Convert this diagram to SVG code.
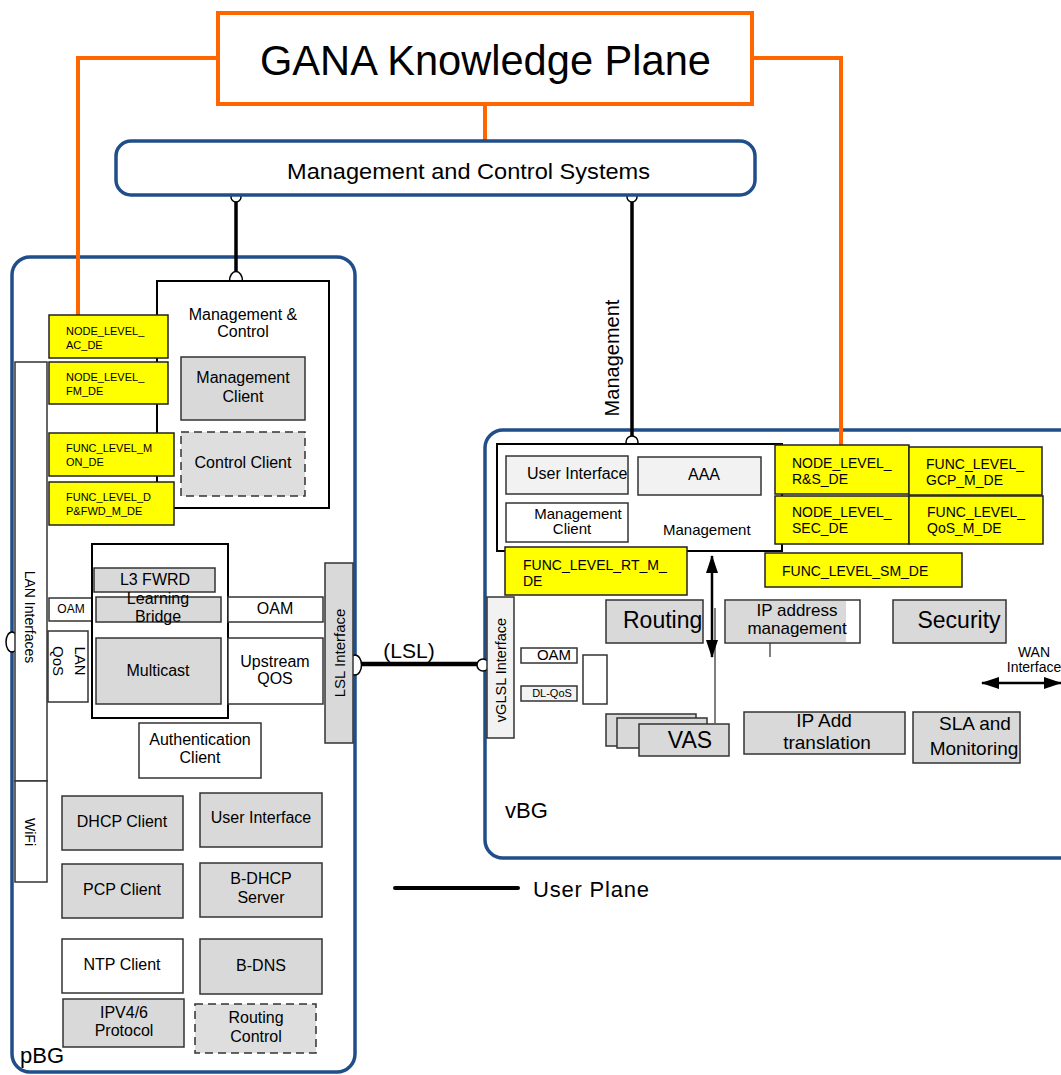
<svg xmlns="http://www.w3.org/2000/svg" width="1061" height="1075" viewBox="0 0 1061 1075">
<style>
text{font-family:"Liberation Sans",Arial,sans-serif;fill:#000}
.c{text-anchor:middle}
.blue{fill:#fff;stroke:#1F4E89;stroke-width:3.5}
.box{stroke:#333;stroke-width:1.5}
.g{fill:#D9D9D9}
.lg{fill:#F2F2F2}
.w{fill:#fff}
.y{fill:#FFFF00;stroke:#222;stroke-width:1.5}
.dash{stroke-dasharray:8,5}
.or{fill:none;stroke:#FF6600;stroke-width:4}
.blk{fill:none;stroke:#000}
.f16{font-size:16px}
.f11{font-size:11px}
.f14{font-size:14px}
</style>
<defs>
<marker id="ah" viewBox="0 0 18 12" refX="17" refY="6" markerWidth="18" markerHeight="12" markerUnits="userSpaceOnUse" orient="auto-start-reverse">
<path d="M0,0 L18,6 L0,12 z" fill="#000"/>
</marker>
</defs>

<!-- containers -->
<g id="pBG">
<rect class="blue" x="12" y="257" width="343" height="815" rx="18"/>
<text x="20" y="1063" font-size="22">pBG</text>
</g>
<g id="vBG">
<rect class="blue" x="485" y="430" width="600" height="428" rx="18"/>
<text x="505" y="818" font-size="22">vBG</text>
</g>

<!-- connectors -->
<g id="connectors">
<path class="or" d="M218,58 H78 V315"/>
<path class="or" d="M752,58 H841 V445"/>
<path class="or" d="M485,104 V141"/>
<line class="blk" x1="236" y1="197" x2="236" y2="272" stroke-width="3.5"/>
<line class="blk" x1="632" y1="197" x2="632" y2="437" stroke-width="3.5"/>
<line class="blk" x1="355" y1="664" x2="481" y2="664" stroke-width="4.5"/>
<line class="blk" x1="395" y1="888" x2="518" y2="888" stroke-width="4" stroke-linecap="round"/>
<line class="blk" x1="712" y1="556" x2="712" y2="657" stroke-width="2.5" marker-start="url(#ah)" marker-end="url(#ah)"/>
<line class="blk" x1="982" y1="683" x2="1061" y2="683" stroke-width="2.5" marker-start="url(#ah)" marker-end="url(#ah)"/>
<line class="blk" x1="715" y1="608" x2="715" y2="723" stroke-width="1"/>
<line class="blk" x1="770" y1="643" x2="770" y2="657" stroke-width="1"/>
<circle cx="236" cy="197" r="5" fill="#fff" stroke="#000" stroke-width="1.5"/>
<circle cx="632" cy="197" r="5" fill="#fff" stroke="#000" stroke-width="1.5"/>
<ellipse cx="236" cy="281" rx="6.5" ry="9.5" fill="#fff" stroke="#000" stroke-width="1.5"/>
<circle cx="632" cy="442" r="6" fill="#fff" stroke="#000" stroke-width="1.5"/>
<ellipse cx="355" cy="665" rx="6.5" ry="10" fill="#fff" stroke="#000" stroke-width="1.5"/>
<circle cx="483" cy="665" r="6" fill="#fff" stroke="#000" stroke-width="1.5"/>
<ellipse cx="12" cy="642" rx="6" ry="10" fill="#fff" stroke="#000" stroke-width="1.5"/>
<text transform="translate(619,358) rotate(-90)" class="c" font-size="20">Management</text>
<text x="409" y="658" class="c" font-size="21">(LSL)</text>
<text x="533" y="897" font-size="22" textLength="116">User Plane</text>
<text x="1034" y="657" class="c f14">WAN</text>
<text x="1034" y="672" class="c f14">Interface</text>
</g>

<g id="gana">
<rect x="218" y="13" width="534" height="91" fill="#fff" stroke="#FF6600" stroke-width="4"/>
<text x="260" y="75" font-size="43" textLength="451" lengthAdjust="spacingAndGlyphs">GANA Knowledge Plane</text>
</g>
<g id="mcs">
<rect class="blue" x="116" y="141" width="639" height="54" rx="15"/>
<text x="287" y="179" font-size="22" textLength="363" lengthAdjust="spacingAndGlyphs">Management and Control Systems</text>
</g>

<!-- pBG internals -->
<g id="lan-if">
<rect class="w box" x="15" y="362" width="32" height="419"/>
<text transform="translate(25,617) rotate(90)" class="c" font-size="14">LAN Interfaces</text>
</g>
<g id="wifi">
<rect class="w box" x="15" y="781" width="32" height="101"/>
<text transform="translate(25,832) rotate(90)" class="c" font-size="14">WiFi</text>
</g>
<g id="mc">
<rect x="157" y="281" width="172" height="227" fill="#fff" stroke="#000" stroke-width="2"/>
<text x="243" y="320" class="c f16">Management &amp;</text>
<text x="243" y="337" class="c f16">Control</text>
</g>
<g id="mgmt-client">
<rect class="g box" x="181" y="357" width="124" height="63"/>
<text x="243" y="383" class="c f16">Management</text>
<text x="243" y="402" class="c f16">Client</text>
</g>
<g id="ctrl-client">
<rect class="box dash" x="181" y="432" width="124" height="64" fill="#DEDEDE"/>
<text x="243" y="468" class="c f16">Control Client</text>
</g>
<g id="y-ac">
<rect class="y" x="49" y="315" width="119" height="43"/>
<text x="66" y="335" class="f11">NODE_LEVEL_</text>
<text x="66" y="349" class="f11">AC_DE</text>
</g>
<g id="y-fm">
<rect class="y" x="49" y="362" width="119" height="42"/>
<text x="66" y="381" class="f11">NODE_LEVEL_</text>
<text x="66" y="395" class="f11">FM_DE</text>
</g>
<g id="y-mon">
<rect class="y" x="49" y="433" width="125" height="43"/>
<text x="66" y="452" class="f11">FUNC_LEVEL_M</text>
<text x="66" y="466" class="f11">ON_DE</text>
</g>
<g id="y-dp">
<rect class="y" x="49" y="482" width="125" height="43"/>
<text x="66" y="501" class="f11">FUNC_LEVEL_D</text>
<text x="66" y="515" class="f11">P&amp;FWD_M_DE</text>
</g>

<g id="oam-l">
<rect class="w box" x="49" y="598" width="45" height="23"/>
<text x="71" y="613" class="c" font-size="12">OAM</text>
</g>
<g id="lan-qos">
<rect class="w box" x="48" y="631" width="40" height="71"/>
<text transform="translate(75,661) rotate(90)" class="c" font-size="15"><tspan x="0" y="0">LAN</tspan><tspan x="0" y="22">QoS</tspan></text>
</g>
<g id="fwd">
<rect x="92" y="544" width="136" height="174" fill="#fff" stroke="#000" stroke-width="2"/>
</g>
<g id="l3fwrd">
<rect class="g box" x="94" y="568" width="121" height="24"/>
<text x="155" y="585" class="c f16">L3 FWRD</text>
</g>
<g id="lbridge">
<rect class="g box" x="96" y="597" width="125" height="25"/>
<text x="158" y="604" class="c f16">Learning</text>
<text x="158" y="622" class="c f16">Bridge</text>
</g>
<g id="multicast">
<rect class="g box" x="96" y="638" width="125" height="66"/>
<text x="158" y="676" class="c f16">Multicast</text>
</g>
<g id="oam-r">
<rect class="w box" x="228" y="597" width="95" height="25"/>
<text x="275" y="614" class="c f16">OAM</text>
</g>
<g id="upqos">
<rect class="w box" x="228" y="638" width="95" height="66"/>
<text x="275" y="667" class="c f16">Upstream</text>
<text x="275" y="684" class="c f16">QOS</text>
</g>
<g id="auth">
<rect class="w box" x="139" y="723" width="122" height="55"/>
<text x="200" y="745" class="c f16">Authentication</text>
<text x="200" y="763" class="c f16">Client</text>
</g>
<g id="lsl-if">
<rect class="g box" x="325" y="563" width="28" height="180"/>
<text transform="translate(345,653) rotate(-90)" class="c" font-size="15">LSL Interface</text>
</g>
<g id="dhcp">
<rect class="g box" x="62" y="796" width="121" height="54"/>
<text x="122" y="827" class="c f16">DHCP Client</text>
</g>
<g id="ui-p">
<rect class="g box" x="200" y="793" width="122" height="54"/>
<text x="261" y="823" class="c f16">User Interface</text>
</g>
<g id="pcp">
<rect class="g box" x="62" y="864" width="121" height="54"/>
<text x="122" y="895" class="c f16">PCP Client</text>
</g>
<g id="bdhcp">
<rect class="g box" x="200" y="863" width="122" height="54"/>
<text x="261" y="884" class="c f16">B-DHCP</text>
<text x="261" y="903" class="c f16">Server</text>
</g>
<g id="ntp">
<rect class="w box" x="62" y="939" width="121" height="54"/>
<text x="122" y="970" class="c f16">NTP Client</text>
</g>
<g id="bdns">
<rect class="g box" x="200" y="939" width="122" height="55"/>
<text x="261" y="971" class="c f16">B-DNS</text>
</g>
<g id="ipv46">
<rect class="g box" x="63" y="999" width="121" height="48"/>
<text x="124" y="1018" class="c f16">IPV4/6</text>
<text x="124" y="1036" class="c f16">Protocol</text>
</g>
<g id="rtctrl">
<rect class="box dash" x="195" y="1004" width="121" height="49" fill="#DEDEDE"/>
<text x="256" y="1023" class="c f16">Routing</text>
<text x="256" y="1042" class="c f16">Control</text>
</g>

<!-- vBG internals -->
<g id="vmgmt">
<rect x="497" y="444" width="285" height="107" fill="#fff" stroke="#000" stroke-width="2"/>
<text x="663" y="535" font-size="15">Management</text>
</g>
<g id="v-ui">
<rect class="lg box" x="506" y="456" width="122" height="38"/>
<text x="527" y="479" class="f16">User Interface</text>
</g>
<g id="aaa">
<rect class="lg box" x="638" y="457" width="123" height="38"/>
<text x="704" y="480" class="c f16">AAA</text>
</g>
<g id="v-mc">
<rect class="w box" x="506" y="503" width="122" height="39"/>
<text x="578" y="519" class="c" font-size="15">Management</text>
<text x="572" y="534" class="c" font-size="15">Client</text>
</g>
<g id="y-rs">
<rect class="y" x="775" y="445" width="134" height="49"/>
<text x="792" y="468" class="f14">NODE_LEVEL_</text>
<text x="792" y="484" class="f14">R&amp;S_DE</text>
</g>
<g id="y-gcp">
<rect class="y" x="909" y="447" width="133" height="48"/>
<text x="926" y="469" class="f14">FUNC_LEVEL_</text>
<text x="926" y="485" class="f14">GCP_M_DE</text>
</g>
<g id="y-sec">
<rect class="y" x="775" y="496" width="134" height="48"/>
<text x="792" y="517" class="f14">NODE_LEVEL_</text>
<text x="792" y="533" class="f14">SEC_DE</text>
</g>
<g id="y-qos">
<rect class="y" x="909" y="496" width="134" height="48"/>
<text x="927" y="517" class="f14">FUNC_LEVEL_</text>
<text x="927" y="533" class="f14">QoS_M_DE</text>
</g>
<g id="y-sm">
<rect class="y" x="765" y="553" width="197" height="34"/>
<text x="782" y="576" class="f14">FUNC_LEVEL_SM_DE</text>
</g>
<g id="y-rt">
<rect class="y" x="505" y="547" width="182" height="48"/>
<text x="523" y="570" class="f14">FUNC_LEVEL_RT_M_</text>
<text x="523" y="586" class="f14">DE</text>
</g>
<g id="vglsl">
<rect class="lg box" x="487" y="597" width="27" height="141"/>
<text transform="translate(506,670) rotate(-90)" class="c" font-size="14.5">vGLSL Interface</text>
</g>
<g id="v-oam">
<rect class="w box" x="521" y="648" width="56" height="15"/>
<text x="554" y="660" class="c" font-size="15">OAM</text>
</g>
<g id="v-dlqos">
<rect class="lg box" x="521" y="686" width="56" height="15"/>
<text x="552" y="697" class="c" font-size="11">DL-QoS</text>
</g>
<g id="v-small">
<rect class="w box" x="583" y="655" width="24" height="49"/>
</g>
<g id="routing">
<rect class="g box" x="606" y="600" width="97" height="43"/>
<text x="623" y="628" font-size="23">Routing</text>
</g>
<g id="ipam">
<rect class="w box" x="725" y="600" width="135" height="43"/>
<rect x="726" y="601" width="120" height="41" fill="#D9D9D9"/>
<text x="797" y="616" class="c" font-size="17">IP address</text>
<text x="797" y="634" class="c" font-size="17">management</text>
</g>
<g id="security">
<rect class="g box" x="893" y="600" width="113" height="43"/>
<text x="959" y="628" class="c" font-size="23">Security</text>
</g>
<g id="vas">
<rect class="g box" x="606" y="714" width="90" height="32"/>
<rect class="g box" x="617" y="718" width="90" height="30"/>
<rect class="g box" x="639" y="724" width="90" height="32"/>
<text x="690" y="748" class="c" font-size="23">VAS</text>
</g>
<g id="ipadd">
<rect class="g box" x="744" y="712" width="161" height="42"/>
<text x="824" y="727" class="c" font-size="19">IP Add</text>
<text x="827" y="749" class="c" font-size="19">translation</text>
</g>
<g id="sla">
<rect class="g box" x="913" y="712" width="107" height="51"/>
<text x="975" y="730" class="c" font-size="19">SLA and</text>
<text x="974" y="755" class="c" font-size="19">Monitoring</text>
</g>
</svg>
